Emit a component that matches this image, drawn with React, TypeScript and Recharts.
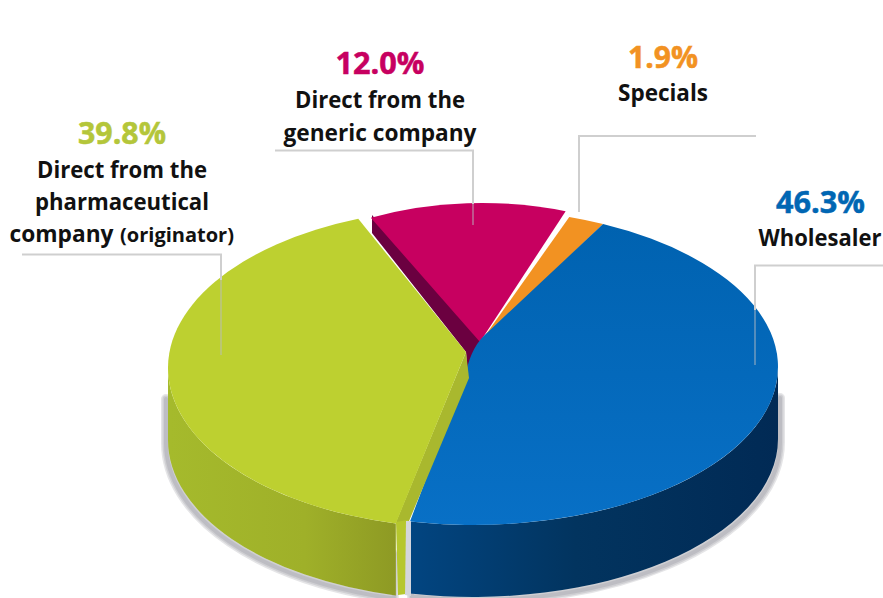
import React from "react";
import { PieChart, Pie } from "recharts";

const categories = ["Direct from the generic company", "Specials", "Wholesaler", "Direct from the pharmaceutical company (originator)"];
const shares = [12.0, 1.9, 46.3, 39.8];
const data = categories.map((name, i) => ({ name, value: shares[i] }));

const FONT = "'Open Sans', sans-serif";
const INK = "#111";
const SHADOW_WIDTHS = [10, 7, 4];
const SHADOW_START = 28;

type Face = {
  cx: number; cy: number; rx: number; ry: number; depth: number;
  fill: string; wall?: string; nudgeStart?: number; nudgeEnd?: number;
  head: number[]; ctrl: number[]; tail: number[];
  shadow?: number[]; side?: { d: string; fill: string }[];
};
const faces: Record<string, Face> = {
  [categories[0]]: {
    cx: 482, cy: 363, rx: 265, ry: 160, depth: 0, fill: "#c70060",
    head: [480, 342], ctrl: [480, 342], tail: [480, 342],
    side: [{ d: "M372 215 L482 342 L484 346 L468 382 L466 352 L372 233 Z", fill: "#6b0040" }],
  },
  [categories[1]]: {
    cx: 473, cy: 367, rx: 305, ry: 158, depth: 0, fill: "#f29222",
    head: [482, 340], ctrl: [482, 340], tail: [482, 340],
  },
  [categories[2]]: {
    cx: 473, cy: 367, rx: 305, ry: 158, depth: 72, fill: "url(#blueTop)", wall: "url(#blueWall)",
    head: [466, 372], ctrl: [472, 345], tail: [488, 332], shadow: [2, 3],
  },
  [categories[3]]: {
    cx: 466, cy: 368, rx: 298, ry: 160, depth: 72, fill: "#bdd030", wall: "url(#greenWall)",
    nudgeStart: 1.7, nudgeEnd: 3.6,
    head: [466, 352], ctrl: [466, 352], tail: [466, 352], shadow: [-2, 3],
    side: [
      { d: "M396 522 L466 352 L469 378 L409 521 L396 524 Z", fill: "#a9b82e" },
      { d: "M396 522 L408 520 L406 594 L398 595 Z", fill: "#b6c72e" },
      { d: "M406 521 L411 521 L411 596 L405 595 Z", fill: "#d4d6dc" },
    ],
  },
};

type Line = { text: string; x: number; y: number; w: number; size: number; fill: string };
const annotations: Record<string, { lines: Line[]; leader: string; over: string }> = {
  [categories[3]]: {
    leader: "M22 254.5 H221 V280",
    over: "M221 280 V355",
    lines: [
      { text: "39.8%", x: 122, y: 144, w: 88, size: 30, fill: "#b4c63a" },
      { text: "Direct from the", x: 122, y: 178, w: 170, size: 24, fill: INK },
      { text: "pharmaceutical", x: 122, y: 210, w: 174, size: 24, fill: INK },
      { text: "company", x: 61.5, y: 242, w: 104, size: 24, fill: INK },
      { text: "(originator)", x: 177, y: 242, w: 114, size: 19, fill: INK },
    ],
  },
  [categories[0]]: {
    leader: "M275 150.5 H473 V204",
    over: "M473 204 V225",
    lines: [
      { text: "12.0%", x: 380, y: 74, w: 89, size: 30, fill: "#c70060" },
      { text: "Direct from the", x: 380, y: 108, w: 170, size: 24, fill: INK },
      { text: "generic company", x: 380, y: 141, w: 193, size: 24, fill: INK },
    ],
  },
  [categories[1]]: {
    leader: "M756 136 H579 V212",
    over: "",
    lines: [
      { text: "1.9%", x: 663, y: 68, w: 70, size: 30, fill: "#f29222" },
      { text: "Specials", x: 663, y: 101, w: 90, size: 24, fill: INK },
    ],
  },
  [categories[2]]: {
    leader: "M883 265.5 H755 V310",
    over: "M755 310 V365",
    lines: [
      { text: "46.3%", x: 820.5, y: 213, w: 89, size: 30, fill: "#0066b3" },
      { text: "Wholesaler", x: 820, y: 246, w: 123, size: 22.5, fill: INK },
    ],
  },
};

const pt = (f: Face, a: number) => {
  const r = (a * Math.PI) / 180;
  return [f.cx + f.rx * Math.cos(r), f.cy - f.ry * Math.sin(r)];
};
const norm = (a: number) => ((a % 360) + 360) % 360;

function SliceShape(props: any) {
  const name = props.name ?? props.payload?.name;
  const f = faces[name];
  if (!f) return null;
  const a0 = props.startAngle - (f.nudgeStart ?? 0);
  const a1 = props.endAngle - (f.nudgeEnd ?? 0);
  const s = pt(f, a0);
  const e = pt(f, a1);
  const large = Math.abs(a0 - a1) > 180 ? 1 : 0;
  const top = `M${s[0]} ${s[1]} A${f.rx} ${f.ry} 0 ${large} 1 ${e[0]} ${e[1]} L${f.head[0]} ${f.head[1]} Q${f.ctrl[0]} ${f.ctrl[1]} ${f.tail[0]} ${f.tail[1]} Z`;
  let wall = "";
  let rim = "";
  if (f.depth > 0) {
    // Visible rim: the part of the slice's arc on the lower half of the ellipse.
    const hi = norm(a0) > 180 ? norm(a0) : 360;
    const lo = norm(a1) >= 180 ? norm(a1) : 180;
    const wStart = pt(f, hi);
    const wEnd = pt(f, lo);
    wall = `M${wStart[0]} ${wStart[1]} A${f.rx} ${f.ry} 0 0 1 ${wEnd[0]} ${wEnd[1]} L${wEnd[0]} ${wEnd[1] + f.depth} A${f.rx} ${f.ry} 0 0 0 ${wStart[0]} ${wStart[1] + f.depth} Z`;
    rim = `M${wEnd[0]} ${wEnd[1] + SHADOW_START} L${wEnd[0]} ${wEnd[1] + f.depth} A${f.rx} ${f.ry} 0 0 0 ${wStart[0]} ${wStart[1] + f.depth} L${wStart[0]} ${wStart[1] + SHADOW_START}`;
  }
  return (
    <g>
      {rim && f.shadow && SHADOW_WIDTHS.map((w) => (
        <path key={w} d={rim} fill="none" stroke="#70707c" strokeOpacity={0.18} strokeWidth={w}
          strokeLinejoin="round" strokeLinecap="round" transform={`translate(${f.shadow![0]} ${f.shadow![1]})`} />
      ))}
      {wall && <path d={wall} fill={f.wall} />}
      {(f.side ?? []).map((p, i) => <path key={i} d={p.d} fill={p.fill} />)}
      <path d={top} fill={f.fill} />
    </g>
  );
}

function SliceLabel(props: any) {
  const a = annotations[props.name ?? props.payload?.name];
  if (!a) return null;
  return (
    <g>
      <path d={a.leader} fill="none" stroke="#cfcfcf" strokeWidth={2} />
      {a.over && <path d={a.over} fill="none" stroke="#b9bcc4" strokeOpacity={0.45} strokeWidth={2} />}
      {a.lines.map((t, i) => (
        <text key={i} x={t.x} y={t.y} textAnchor="middle" fontFamily={FONT} fontWeight={700}
          fontSize={t.size} fill={t.fill} stroke={t.size === 30 ? t.fill : "none"} strokeWidth={0.5}
          textLength={t.w} lengthAdjust="spacingAndGlyphs">
          {t.text}
        </text>
      ))}
    </g>
  );
}

export default function App() {
  return (
    <div style={{ position: "absolute", left: 0, top: 0, width: 883, height: 598, background: "#fff" }}>
      <svg width={0} height={0} style={{ position: "absolute" }}>
        <defs>
          <linearGradient id="blueTop" x1="0" y1="0" x2="0" y2="1">
            <stop offset="0" stopColor="#0062b0" />
            <stop offset="1" stopColor="#0870c6" />
          </linearGradient>
          <linearGradient id="blueWall" gradientUnits="userSpaceOnUse" x1="410" y1="0" x2="778" y2="0">
            <stop offset="0" stopColor="#024581" />
            <stop offset="0.45" stopColor="#02345f" />
            <stop offset="1" stopColor="#012a55" />
          </linearGradient>
          <linearGradient id="greenWall" gradientUnits="userSpaceOnUse" x1="170" y1="0" x2="395" y2="0">
            <stop offset="0" stopColor="#a5ba2c" />
            <stop offset="0.6" stopColor="#9fb029" />
            <stop offset="1" stopColor="#8e9a24" />
          </linearGradient>
        </defs>
      </svg>
      <PieChart width={883} height={598} margin={{ top: 0, right: 0, bottom: 0, left: 0 }} accessibilityLayer={false}>
        <Pie
          data={data}
          dataKey="value"
          nameKey="name"
          cx={473}
          cy={367}
          outerRadius={305}
          startAngle={114.8}
          endAngle={-245.2}
          stroke="none"
          isAnimationActive={false}
          labelLine={false}
          label={SliceLabel}
          shape={SliceShape}
        />
      </PieChart>
    </div>
  );
}
